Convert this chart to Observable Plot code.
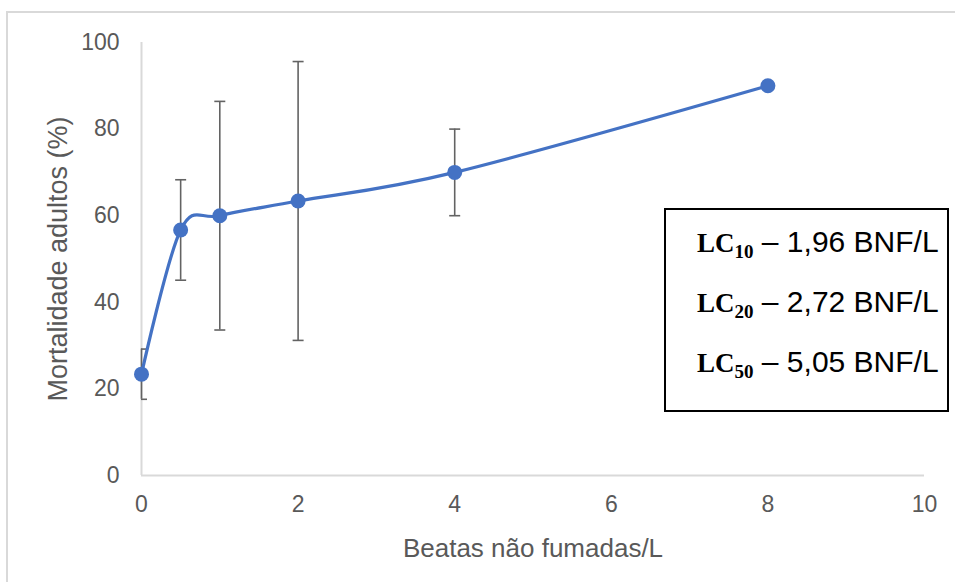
<!DOCTYPE html>
<html lang="pt">
<head>
<meta charset="utf-8">
<script src="https://cdn.jsdelivr.net/npm/d3@7"></script>
<script src="https://cdn.jsdelivr.net/npm/@observablehq/plot@0.6"></script>
<style>
  html, body { margin: 0; padding: 0; background: #fff; overflow: hidden; }
  #wrap { position: relative; width: 955px; height: 582px; }
  #border {
    position: absolute; left: 6px; top: 11px; width: 2000px; height: 2000px;
    border-left: 2px solid #d9d9d9; border-top: 2px solid #d9d9d9;
  }
  #chart { position: absolute; left: 0; top: 0; }
  #lc {
    position: absolute; left: 664px; top: 208px;
    width: 285px; height: 204px; box-sizing: border-box;
    border: 2px solid #000; background: #fff;
    padding-top: 4px; padding-left: 31px;
    font-family: "Liberation Sans", Arial, sans-serif; font-size: 30px; color: #000;
  }
  #lc .row { line-height: 56px; white-space: nowrap; }
  #lc .lc { font-family: "Liberation Serif", "DejaVu Serif", serif; font-weight: bold; font-size: 27px; }
  #lc .sub { position: relative; top: 6px; font-size: 19px; }
</style>
</head>
<body>
<div id="wrap">
  <div id="border"></div>
  <div id="chart"></div>
  <div id="lc"></div>
</div>
<script>
// Unsmoked cigarette butts per litre vs. adult mortality (mean ± deviation)
const doses = [0, 0.5, 1, 2, 4, 8];
const mortality = [23.4, 56.7, 60.0, 63.4, 70.0, 90.0];
const deviation = [5.8, 11.6, 26.4, 32.2, 10.0, 0];

const xTicks = [0, 2, 4, 6, 8, 10];
const yTicks = [0, 20, 40, 60, 80, 100];

const xTitle = "Beatas não fumadas/L";
const yTitle = "Mortalidade adultos (%)";

// Lethal concentrations shown in the boxed note
const lcLevels = ["10", "20", "50"];
const lcValues = ["1,96", "2,72", "5,05"];
const lcUnit = "BNF/L";

const rows = doses.map((d, i) => ({
  dose: d,
  mort: mortality[i],
  lo: mortality[i] - deviation[i],
  hi: mortality[i] + deviation[i],
  dev: deviation[i]
}));
const withBars = rows.filter(r => r.dev > 0);

// horizontal cap for the error bars
const capSymbol = {
  draw(context, size) {
    const w = Math.sqrt(size / Math.PI);
    context.moveTo(-w, 0);
    context.lineTo(w, 0);
  }
};

const blue = "#4472C4";
const barColor = "#636363";

const chart = Plot.plot({
  width: 955,
  height: 582,
  marginLeft: 141,
  marginRight: 31,
  marginTop: 42,
  marginBottom: 107,
  style: {
    fontFamily: "'Liberation Sans', Arial, sans-serif",
    fontSize: "23px",
    color: "#595959",
    background: "transparent"
  },
  x: {
    domain: [0, 10],
    ticks: xTicks,
    tickSize: 0,
    tickPadding: 20,
    label: xTitle,
    labelAnchor: "center",
    labelArrow: "none",
    labelOffset: 81
  },
  y: {
    domain: [0, 100],
    ticks: yTicks,
    tickSize: 0,
    tickPadding: 22,
    label: yTitle,
    labelAnchor: "center",
    labelArrow: "none",
    labelOffset: 94
  },
  marks: [
    Plot.ruleY([0], {stroke: "#d9d9d9", strokeWidth: 2}),
    Plot.ruleX([0], {stroke: "#d9d9d9", strokeWidth: 2}),
    Plot.ruleX(withBars, {x: "dose", y1: "lo", y2: "hi", stroke: barColor, strokeWidth: 1.6}),
    Plot.dot(withBars, {x: "dose", y: "hi", symbol: capSymbol, r: 5.5, stroke: barColor, strokeWidth: 1.6, fill: "none", clip: true}),
    Plot.dot(withBars, {x: "dose", y: "lo", symbol: capSymbol, r: 5.5, stroke: barColor, strokeWidth: 1.6, fill: "none", clip: true}),
    Plot.line(rows, {x: "dose", y: "mort", curve: "cardinal", stroke: blue, strokeWidth: 3.2}),
    Plot.dot(rows, {x: "dose", y: "mort", r: 7.5, fill: blue, stroke: "none"})
  ]
});
// axis titles a little larger than the tick labels
chart.querySelectorAll("text").forEach(t => {
  if (t.textContent === xTitle) t.style.fontSize = "26px";
  if (t.textContent === yTitle) t.style.fontSize = "27px";
});
document.getElementById("chart").appendChild(chart);

// boxed note with LC values
const box = d3.select("#lc");
lcLevels.forEach((lvl, i) => {
  const row = box.append("div").attr("class", "row");
  const lc = row.append("span").attr("class", "lc").text("LC");
  lc.append("span").attr("class", "sub").text(lvl);
  row.append("span").text(" \u2013 " + lcValues[i] + " " + lcUnit);
});
</script>
</body>
</html>
